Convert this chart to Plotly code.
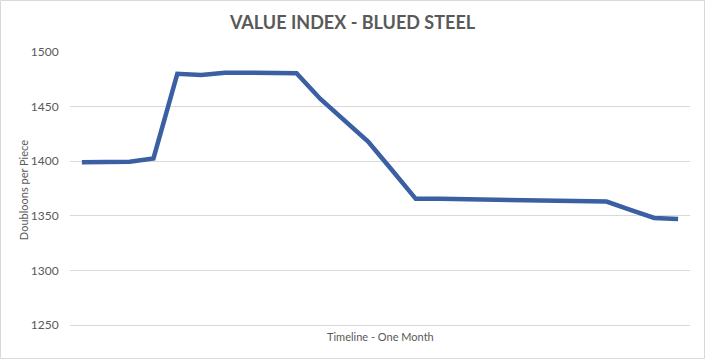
import plotly.graph_objects as go

days = list(range(26))
values = [1399, 1399.5, 1399.5, 1402.5, 1480, 1479, 1481, 1481, 1480.5, 1480.5,
          1457, 1437, 1418, 1392, 1365.5, 1365.5, 1365, 1365, 1364.5, 1364,
          1364, 1363.5, 1363, 1355.5, 1348, 1347]
y_ticks = [1250, 1300, 1350, 1400, 1450, 1500]
title_text = "VALUE INDEX - BLUED STEEL"
x_title = "Timeline - One Month"
y_title = "Doubloons per Piece"

grey = "#595959"
fig = go.Figure()
fig.add_trace(go.Scatter(x=days, y=values, mode="lines",
                         line=dict(color="#3A5FA2", width=4.5),
                         showlegend=False, hoverinfo="skip"))

fig.update_layout(
    width=705, height=359,
    margin=dict(l=70, r=15, t=52, b=34),
    paper_bgcolor="white", plot_bgcolor="white",
    font=dict(family="Lato, sans-serif", color=grey),
    title=dict(text="<b>" + title_text + "</b>", x=0.5, xanchor="center",
               y=1 - 23 / 359, yanchor="middle",
               font=dict(size=18, color=grey, family="Lato, sans-serif")),
    xaxis=dict(range=[-0.5, 25.5], showticklabels=False, showgrid=False,
               zeroline=False, showline=True, linecolor="#D9D9D9", linewidth=1,
               ticks=""),
    yaxis=dict(range=[1250, 1500], tickvals=y_ticks, showgrid=True,
               gridcolor="#D9D9D9", gridwidth=1, zeroline=False, showline=False,
               tickfont=dict(size=12, color=grey), ticks="outside",
               ticklen=8, tickcolor="rgba(0,0,0,0)"),
    annotations=[
        dict(text=y_title, x=(23 - 70) / 620, y=0.494, xref="paper", yref="paper",
             textangle=-90, showarrow=False, xanchor="center", yanchor="middle",
             font=dict(size=11, color=grey)),
        dict(text=x_title, x=0.5, y=(325 - 336) / 273, xref="paper", yref="paper",
             showarrow=False, xanchor="center", yanchor="middle",
             font=dict(size=11, color=grey)),
    ],
    shapes=[dict(type="rect", xref="paper", yref="paper",
                 x0=(0.5 - 70) / 620, x1=(704.5 - 70) / 620,
                 y0=(325 - 358.5) / 273, y1=(325 - 0.5) / 273,
                 line=dict(color="#D9D9D9", width=1), layer="below")],
)

fig.write_html("out.html", config={"displayModeBar": False},
               post_script="document.body.style.margin='0';document.body.style.overflow='hidden';")
